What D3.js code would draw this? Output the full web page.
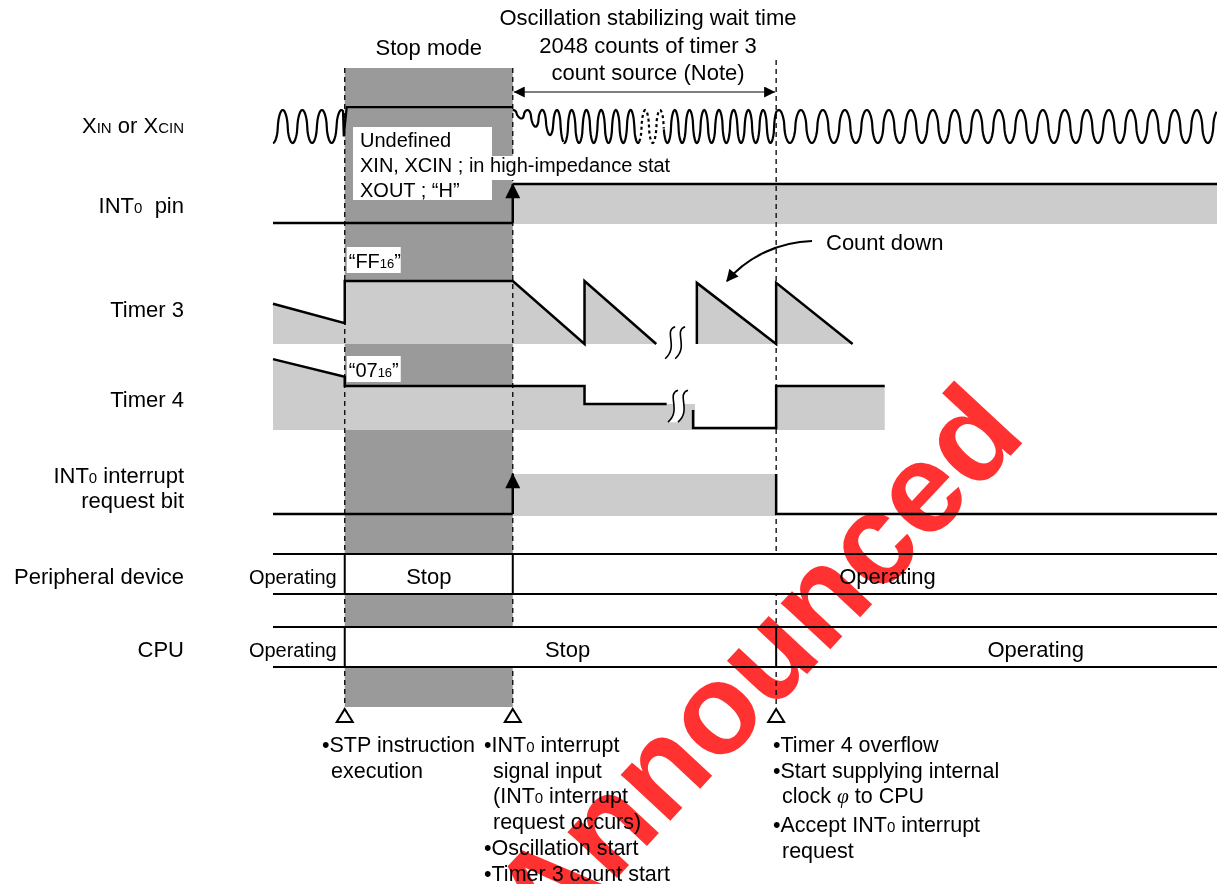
<!DOCTYPE html>
<html>
<head>
<meta charset="utf-8">
<script src="https://cdn.jsdelivr.net/npm/d3@7"></script>
<style>
  body { margin: 0; background: #fff; }
  svg { display: block; font-family: "Liberation Sans", Arial, Helvetica, sans-serif; }
  text { white-space: pre; }
</style>
</head>
<body>
<div id="chart"></div>
<script>
// ---- data (time in arbitrary units, 0 = left edge of the traces, 100 = right edge) ----
const eventTimes = [7.6, 25.4, 53.3];   // STP executed, INT0 input, Timer 4 overflow

// levels: 0 = low, 1 = high
const int0Pin   = [[0, 0], [25.4, 0], [25.4, 1], [100, 1]];
const timer3A   = [[0, 0.64], [7.6, 0.33], [7.6, 1], [25.4, 1], [33.0, 0], [33.0, 1], [40.6, 0]];
const timer3B   = [[44.9, 0], [44.9, 0.97], [53.3, 0], [53.3, 0.97], [61.4, 0]];
const timer4A   = [[0, 1.64], [7.6, 1.22], [7.6, 1], [33.0, 1], [33.0, 0.57], [41.7, 0.57]];
const timer4B   = [[44.5, 0.43], [44.5, 0], [53.3, 0], [53.3, 1], [64.8, 1]];
const intReqBit = [[0, 0], [25.4, 0], [25.4, 1], [53.3, 1], [53.3, 0], [100, 0]];
const breakTimes = [42.6, 42.9];        // break marks on timer 3 / timer 4

// oscillator drawing: [from, to, start amplitude, end amplitude, period, start phase, dashed]
const xinSegments = [
  [0, 7.45, 1, 1, 2.07, 0.5, false],
  [25.4, 30.8, 0.12, 1, 1.56, 0, false],
  [30.8, 38.8, 1, 1, 1.56, null, false],
  [38.8, 41.4, 1, 1, 1.56, null, true],
  [41.4, 53.4, 1, 1, 1.56, null, false],
  [53.4, 100, 1, 1, 2.33, 0.92, false]
];

const peripheralStates = [["Operating", 0, 7.6], ["Stop", 7.6, 25.4], ["Operating", 25.4, 100]];
const cpuStates        = [["Operating", 0, 7.6], ["Stop", 7.6, 53.3], ["Operating", 53.3, 100]];

const rowLabels = [["X_{IN} or X_{CIN}"], ["INT_{0}  pin"], ["Timer 3"], ["Timer 4"],
                   ["INT_{0} interrupt", "request bit"], ["Peripheral device"], ["CPU"]];

const topNotes  = ["Oscillation stabilizing wait time", "2048 counts of timer 3", "count source (Note)"];
const undefinedNote = ["Undefined", "XIN, XCIN ; in high-impedance stat", "XOUT ; \u201cH\u201d"];
const eventNotes = [
  ["•STP instruction", " execution"],
  ["•INT_{0} interrupt", " signal input", " (INT_{0} interrupt", " request occurs)", "•Oscillation start", "•Timer 3 count start"],
  ["•Timer 4 overflow", "•Start supplying internal", " clock *{φ} to CPU", "•Accept INT_{0} interrupt", " request"]
];

// ---- layout ----
const W = 1217, H = 884;
const DARK = "#9a9a9a", LIGHT = "#cccccc";
const svg = d3.select("#chart").append("svg").attr("width", W).attr("height", H);

const x = d3.scaleLinear().domain([0, 100]).range([273, 1217]);
const [tStp, tInt, tOvf] = eventTimes;
const yXin = d3.scaleLinear().domain([0, 1]).range([143, 110]);
const yPin = d3.scaleLinear().domain([0, 1]).range([223, 184]);
const yT3  = d3.scaleLinear().domain([0, 1]).range([344, 281]);
const yT4  = d3.scaleLinear().domain([0, 1]).range([428, 386]);
const yReq = d3.scaleLinear().domain([0, 1]).range([514, 474]);

function rich(sel, str, small) {
  str.split(/(_\{[^}]*\}|\*\{[^}]*\})/).filter(s => s.length).forEach(p => {
    if (p.startsWith("_{")) sel.append("tspan").attr("font-size", small).text(p.slice(2, -1));
    else if (p.startsWith("*{")) sel.append("tspan").attr("font-style", "italic")
      .attr("font-family", "'Liberation Serif', serif").text(p.slice(2, -1));
    else sel.append("tspan").text(p);
  });
  return sel;
}

const defs = svg.append("defs");
defs.append("marker").attr("id", "ah").attr("viewBox", "0 0 10 10")
  .attr("refX", 10).attr("refY", 5).attr("markerUnits", "userSpaceOnUse")
  .attr("markerWidth", 17).attr("markerHeight", 11).attr("orient", "auto-start-reverse")
  .append("path").attr("d", "M0,0L10,5L0,10z").attr("fill", "#000");
defs.append("marker").attr("id", "up").attr("viewBox", "0 0 10 10")
  .attr("refX", 9.5).attr("refY", 5).attr("markerUnits", "userSpaceOnUse")
  .attr("markerWidth", 20).attr("markerHeight", 15).attr("orient", "auto")
  .append("path").attr("d", "M0,0L10,5L0,10z").attr("fill", "#000");
defs.append("marker").attr("id", "cd").attr("viewBox", "0 0 10 10")
  .attr("refX", 9).attr("refY", 5).attr("markerUnits", "userSpaceOnUse")
  .attr("markerWidth", 16).attr("markerHeight", 12).attr("orient", "auto")
  .append("path").attr("d", "M0,0L10,5L0,10z").attr("fill", "#000");

// stop mode band
svg.append("rect").attr("x", x(tStp)).attr("y", 68)
  .attr("width", x(tInt) - x(tStp)).attr("height", 707 - 68).attr("fill", DARK);

// light fills
const area = (ys, base) => d3.area().x(d => x(d[0])).y0(base).y1(d => ys(d[1]));
svg.append("path").attr("d", area(yPin, yPin(0) + 1)(int0Pin.slice(2))).attr("fill", LIGHT);
svg.append("path").attr("d", area(yT3, yT3(0))(timer3A)).attr("fill", LIGHT);
svg.append("path").attr("d", area(yT3, yT3(0))(timer3B)).attr("fill", LIGHT);
svg.append("path").attr("d", area(yT4, 430)(timer4A.concat([[44.7, 0.57]]))).attr("fill", LIGHT);
svg.append("path").attr("d", area(yT4, 430)(timer4B)).attr("fill", LIGHT);
svg.append("path").attr("d", area(yReq, yReq(0) + 2)(intReqBit.slice(2, 4))).attr("fill", LIGHT);

// event dashed lines
svg.selectAll(".ev").data(eventTimes).join("line")
  .attr("x1", d => x(d)).attr("x2", d => x(d))
  .attr("y1", (d, i) => i === 2 ? 60 : 68).attr("y2", 707)
  .attr("stroke", "#000").attr("stroke-width", 1.3).attr("stroke-dasharray", "5,4");

// white boxes for peripheral / cpu rows
const stateRows = [[peripheralStates, 554, 594], [cpuStates, 627, 667]];
stateRows.forEach(([states, y0, y1]) => {
  svg.append("rect").attr("x", x(0)).attr("y", y0).attr("width", x(100) - x(0))
    .attr("height", y1 - y0).attr("fill", "#fff");
  [y0, y1].forEach(yy => svg.append("line").attr("x1", x(0)).attr("x2", x(100))
    .attr("y1", yy).attr("y2", yy).attr("stroke", "#000").attr("stroke-width", 2));
  states.slice(1).forEach(s => svg.append("line").attr("x1", x(s[1])).attr("x2", x(s[1]))
    .attr("y1", y0).attr("y2", y1).attr("stroke", "#000").attr("stroke-width", 2));
});
const stateLabelAt = [[null, (tStp + tInt) / 2, 65.1], [null, 31.2, 80.8]];
stateRows.forEach(([states, y0, y1], r) => {
  states.forEach((s, i) => {
    const left = i === 0;
    svg.append("text")
      .attr("x", left ? x(s[2]) - 8 : x(stateLabelAt[r][i]))
      .attr("y", y1 - 10).attr("text-anchor", left ? "end" : "middle")
      .attr("font-size", left ? 20 : 22).text(s[0]);
  });
});

// label boxes
svg.append("rect").attr("x", 353).attr("y", 127).attr("width", 139).attr("height", 73).attr("fill", "#fff");
svg.append("rect").attr("x", 492).attr("y", 156).attr("width", 179).attr("height", 24).attr("fill", "#fff");
undefinedNote.forEach((t, i) => svg.append("text").attr("x", 360).attr("y", 147 + i * 25)
  .attr("font-size", 20).text(t));

const valBox = (label, y) => {
  const g = svg.append("g");
  g.append("rect").attr("x", x(tStp) + 2).attr("y", y - 21).attr("width", 54).attr("height", 26).attr("fill", "#fff");
  rich(g.append("text").attr("x", x(tStp) + 4).attr("y", y).attr("font-size", 20), label, 13);
};
valBox("\u201cFF_{16}\u201d", 268);
valBox("\u201c07_{16}\u201d", 377);

// oscillator
let phaseCarry = 0;
function oscPoints(seg) {
  const [t0, t1, a0, a1, per, ph] = seg;
  const px0 = x(t0), px1 = x(t1), period = x(per) - x(0);
  const phase0 = ph === null ? phaseCarry : ph;
  const pts = [];
  for (let px = px0; px <= px1 + 0.01; px += 0.5) {
    const f = (px - px0) / Math.max(1, px1 - px0);
    const amp = a0 + (a1 - a0) * f;
    const c = Math.cos(2 * Math.PI * (phase0 + (px - px0) / period));
    const s = Math.sign(c) * Math.pow(Math.abs(c), 0.55);
    pts.push([px, yXin(1) + (yXin(0) - yXin(1)) * amp * (1 - s) / 2]);
  }
  phaseCarry = phase0 + (px1 - px0) / period;
  return pts;
}
const line = d3.line();
xinSegments.forEach(seg => {
  let pts = oscPoints(seg);
  if (seg[0] === 0) pts = pts.concat([[x(tStp) - 1, yXin(0.2)], [x(tStp) + 2, yXin(1.09)], [x(tInt), yXin(1.09)]]);
  svg.append("path").attr("d", line(pts)).attr("fill", "none").attr("stroke", "#000")
    .attr("stroke-width", 2.2).attr("stroke-dasharray", seg[6] ? "3,3" : null);
});

// signal traces
const trace = ys => d3.line().x(d => x(d[0])).y(d => ys(d[1]));
const draw = (d, attrs = {}) => {
  const p = svg.append("path").attr("d", d).attr("fill", "none").attr("stroke", "#000")
    .attr("stroke-width", 2.5).attr("stroke-linejoin", "miter");
  Object.entries(attrs).forEach(([k, v]) => p.attr(k, v));
  return p;
};
draw(trace(yPin)(int0Pin.slice(0, 2)));
draw(trace(yPin)(int0Pin.slice(2)));
draw(trace(yPin)([[tInt, 0], [tInt, 1]]), { "marker-end": "url(#up)" });
draw(trace(yT3)(timer3A));
draw(trace(yT3)(timer3B));
draw(trace(yT4)(timer4A));
draw(trace(yT4)(timer4B));
draw(trace(yReq)(intReqBit.slice(0, 2)));
draw(trace(yReq)(intReqBit.slice(3)));
draw(trace(yReq)([[tInt, 0], [tInt, 1]]), { "marker-end": "url(#up)" });

// break marks (two parallel long-S curves with white between)
const brk = (t, yc) => {
  const g = svg.append("g").attr("transform", `translate(${x(t)},${yc})`);
  const curve = dx => `M${dx + 5},-16 C${dx - 7},-12 ${dx + 9},4 ${dx - 5},16`;
  g.append("path").attr("d", `M0,-16 C-12,-12 4,4 -10,16 L0,16 C14,4 -2,-12 10,-16 Z`).attr("fill", "#fff");
  [-5, 5].forEach(dx => g.append("path").attr("d", curve(dx))
    .attr("fill", "none").attr("stroke", "#000").attr("stroke-width", 1.6));
};
brk(breakTimes[0], yT3(0.02));
brk(breakTimes[1], yT4(0.52));

// wait-time arrow
svg.append("line").attr("x1", x(tInt) + 1).attr("x2", x(tOvf) - 1).attr("y1", 92).attr("y2", 92)
  .attr("stroke", "#000").attr("stroke-width", 1.2)
  .attr("marker-start", "url(#ah)").attr("marker-end", "url(#ah)");

// count-down callout
svg.append("path").attr("d", "M812,241 C780,242 748,256 727,281").attr("fill", "none")
  .attr("stroke", "#000").attr("stroke-width", 2).attr("marker-end", "url(#cd)");
svg.append("text").attr("x", 826).attr("y", 250).attr("font-size", 22).text("Count down");

// event triangles
svg.selectAll(".tri").data(eventTimes).join("path")
  .attr("d", d => `M${x(d)},709 L${x(d) + 8},722 L${x(d) - 8},722 Z`)
  .attr("fill", "#fff").attr("stroke", "#000").attr("stroke-width", 2);

// top texts
svg.append("text").attr("x", x((tStp + tInt) / 2)).attr("y", 55).attr("text-anchor", "middle")
  .attr("font-size", 22).text("Stop mode");
topNotes.forEach((t, i) => svg.append("text").attr("x", 648).attr("y", 25 + i * 27.5)
  .attr("text-anchor", "middle").attr("font-size", 22).text(t));

// row labels
const labelBase = [[133], [213], [317], [407], [483, 508], [584], [657]];
rowLabels.forEach((lines, r) => lines.forEach((t, j) =>
  rich(svg.append("text").attr("x", 184).attr("y", labelBase[r][j]).attr("text-anchor", "end")
    .attr("font-size", 22), t, 15)));

// event notes
const noteX = [322, 484, 773];
eventNotes.forEach((lines, c) => lines.forEach((t, j) => {
  const indent = t.startsWith(" ");
  rich(svg.append("text").attr("x", noteX[c] + (indent ? 9 : 0))
    .attr("y", 752 + j * 25.7 + (c === 2 && j > 2 ? 3 : 0)).attr("font-size", 21.5), t.trimStart(), 15);
}));

// watermark
svg.append("text").attr("transform", "translate(548,952) rotate(-47)")
  .attr("font-size", 128).attr("font-weight", "bold").attr("fill", "#ff1414")
  .attr("opacity", 0.88).style("mix-blend-mode", "multiply").text("Announced");
</script>
</body>
</html>
